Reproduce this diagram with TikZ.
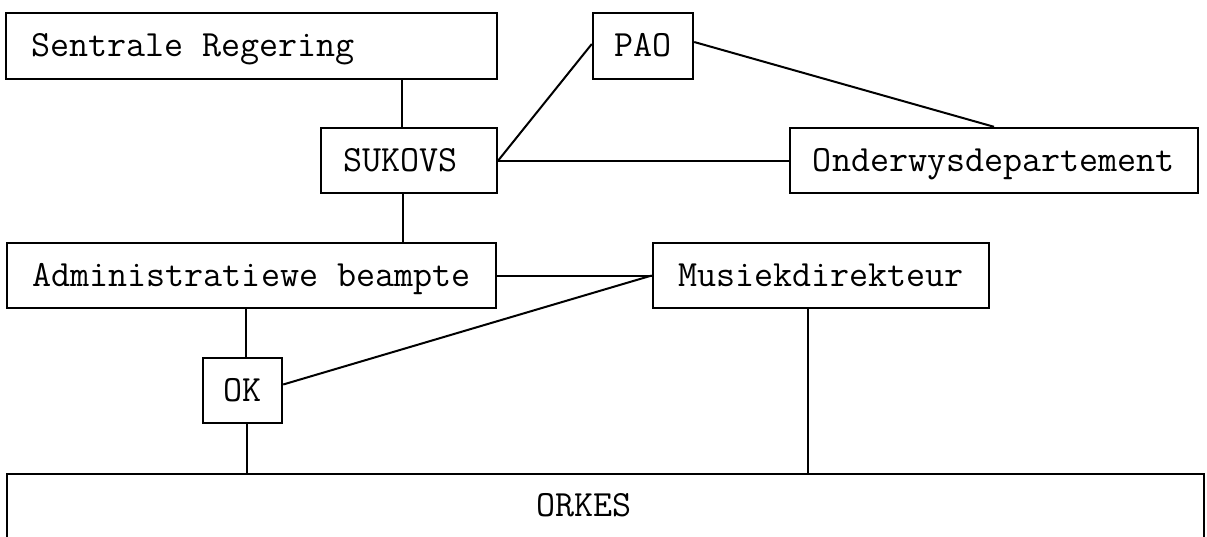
\documentclass[tikz,border=0pt]{standalone}
\usepackage{fontspec}
\begin{document}
\begin{tikzpicture}[x=1pt,y=-1pt,
  box/.style={draw=black, line width=2.4pt, inner sep=0pt, rectangle,
    font=\ttfamily\fontsize{37}{44}\selectfont, text height=21pt, text depth=0pt},
  conn/.style={draw=black, line width=2pt}]
\useasboundingbox (0,0) rectangle (1207,536);
\clip (0,0) rectangle (1207,536);
\fill[white] (0,0) rectangle (1207,536);
% boxes
\node[box, minimum width=491pt, minimum height=66pt] (sr) at (251.5,46) {Sentrale Regering\hspace*{117pt}};
\node[box, minimum width=100pt, minimum height=66pt] (pao) at (643,46) {PAO};
\node[box, minimum width=176pt, minimum height=65pt] (suk) at (409,160.5) {SUKOVS\hspace*{17pt}};
\node[box, minimum width=408pt, minimum height=65pt] (ond) at (994,160.5) {Onderwysdepartement};
\node[box, minimum width=489pt, minimum height=65pt] (adm) at (251.5,275.5) {Administratiewe beampte};
\node[box, minimum width=336pt, minimum height=65pt] (mus) at (821,275.5) {Musiekdirekteur};
\node[box, minimum width=79pt, minimum height=65pt] (ok) at (242.5,390.5) {OK};
\node[box, minimum width=1197pt, minimum height=64pt] (ork) at (605.5,506) {ORKES\hspace*{43pt}};
% helper coordinates
\coordinate (xa) at (402,0);
\coordinate (xb) at (403,0);
\coordinate (xc) at (246,0);
\coordinate (xd) at (247,0);
\coordinate (xe) at (808,0);
% connectors
\draw[conn] (sr.south -| xa) -- (suk.north -| xa);
\draw[conn] (suk.east) -- ([yshift=2pt]pao.west);
\draw[conn] (suk.east) -- (ond.west);
\draw[conn] ([yshift=4pt]pao.east) -- (ond.north);
\draw[conn] (suk.south -| xb) -- (adm.north -| xb);
\draw[conn] (adm.east) -- (mus.west);
\draw[conn] ([yshift=6pt]ok.east) -- (mus.west);
\draw[conn] (adm.south -| xc) -- (ok.north -| xc);
\draw[conn] (ok.south -| xd) -- (ork.north -| xd);
\draw[conn] (mus.south -| xe) -- (ork.north -| xe);
\end{tikzpicture}
\end{document}
